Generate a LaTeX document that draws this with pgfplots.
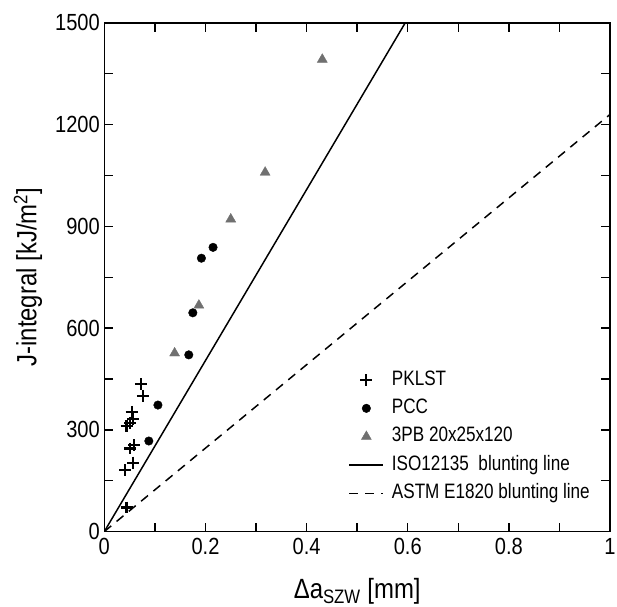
\documentclass[border=0pt]{standalone}
\usepackage{fontspec}
\setmainfont{Liberation Sans}[FakeStretch=0.86]
\newfontfamily\legfont{Liberation Sans}[FakeStretch=0.82]
\usepackage{pgfplots}
\pgfplotsset{compat=1.18}
\definecolor{trigray}{HTML}{707070}
\pgfplotsset{
  legmark/.style={legend image code/.code={\draw[##1] plot coordinates {(17pt,0pt)};}},
  legline/.style={legend image code/.code={\draw[##1] (0pt,0pt) -- (34pt,0pt);}},
}
\begin{document}
\begin{tikzpicture}
\begin{axis}[
  scale only axis,
  width=509pt, height=512pt,
  xmin=0, xmax=1, ymin=0, ymax=1500,
  xtick={0,0.2,0.4,0.6,0.8,1},
  xticklabels={0,0.2,0.4,0.6,0.8,1},
  minor xtick={0.1,0.3,0.5,0.7,0.9},
  ytick={0,300,600,900,1200,1500},
  yticklabels={0,300,600,900,1200,1500},
  minor ytick={150,450,750,1050,1350},
  tick align=inside,
  major tick length=9pt, minor tick length=9pt,
  axis line style={line width=1.6pt},
  every tick/.style={line width=1.4pt, black},
  tick label style={font=\fontsize{23.5}{28}\selectfont},
  xticklabel style={yshift=-3pt},
  yticklabel style={xshift=-1pt},
  xlabel={Δa\textsubscript{SZW} [mm]},
  ylabel={J-integral [kJ/m\textsuperscript{2}]},
  xlabel style={font=\fontsize{28}{33}\selectfont, at={(axis description cs:0.5,-0.1309)}, anchor=base},
  ylabel style={font=\fontsize{28}{33}\selectfont, at={(axis description cs:-0.151,0.5)}, anchor=center},
  legend style={at={(axis description cs:0.477,0.33)}, anchor=north west, draw=none, fill=none,
    font=\legfont\fontsize{21}{25}\selectfont,
    nodes={text height=15pt, text depth=4.5pt, inner ysep=4.5pt, inner xsep=8pt}},
  legend cell align=left,
  clip=true,
]
\coordinate (sw) at (rel axis cs:0,0);
\coordinate (ne) at (rel axis cs:1,1);
\addplot[only marks, mark=+, mark size=6pt, line width=2.2pt, black, legmark]
  coordinates {
  (0.044,71) (0.041,181) (0.057,203) (0.051,245) (0.059,255)
  (0.044,311) (0.051,321) (0.057,333) (0.054,353) (0.076,400) (0.072,434)
  };
\addlegendentry{PKLST}
\addplot[only marks, mark=*, mark size=4.3pt, black, legmark]
  coordinates {
  (0.088,267) (0.106,373) (0.167,521) (0.175,645) (0.192,806) (0.215,838)
  };
\addlegendentry{PCC}
\addplot[only marks, mark=triangle*, mark size=5.8pt, trigray, mark options={fill=trigray, draw=trigray}, legmark]
  coordinates {
  (0.139,526) (0.187,667) (0.250,921) (0.318,1059) (0.431,1392)
  };
\addlegendentry{3PB 20x25x120}
\addplot[black, line width=1.5pt, legline]
  coordinates {(0,0) (0.595,1500)};
\addlegendentry{ISO12135~ blunting line}
\addplot[black, line width=1.5pt, dash pattern=on 9pt off 7pt, legline]
  coordinates {(0,0) (1,1230)};
\addlegendentry{ASTM E1820 blunting line}
\end{axis}
\pgfresetboundingbox
\path[use as bounding box] ([shift={(-105pt,-75pt)}]sw) rectangle ([shift={(7pt,23pt)}]ne);
\end{tikzpicture}
\end{document}
